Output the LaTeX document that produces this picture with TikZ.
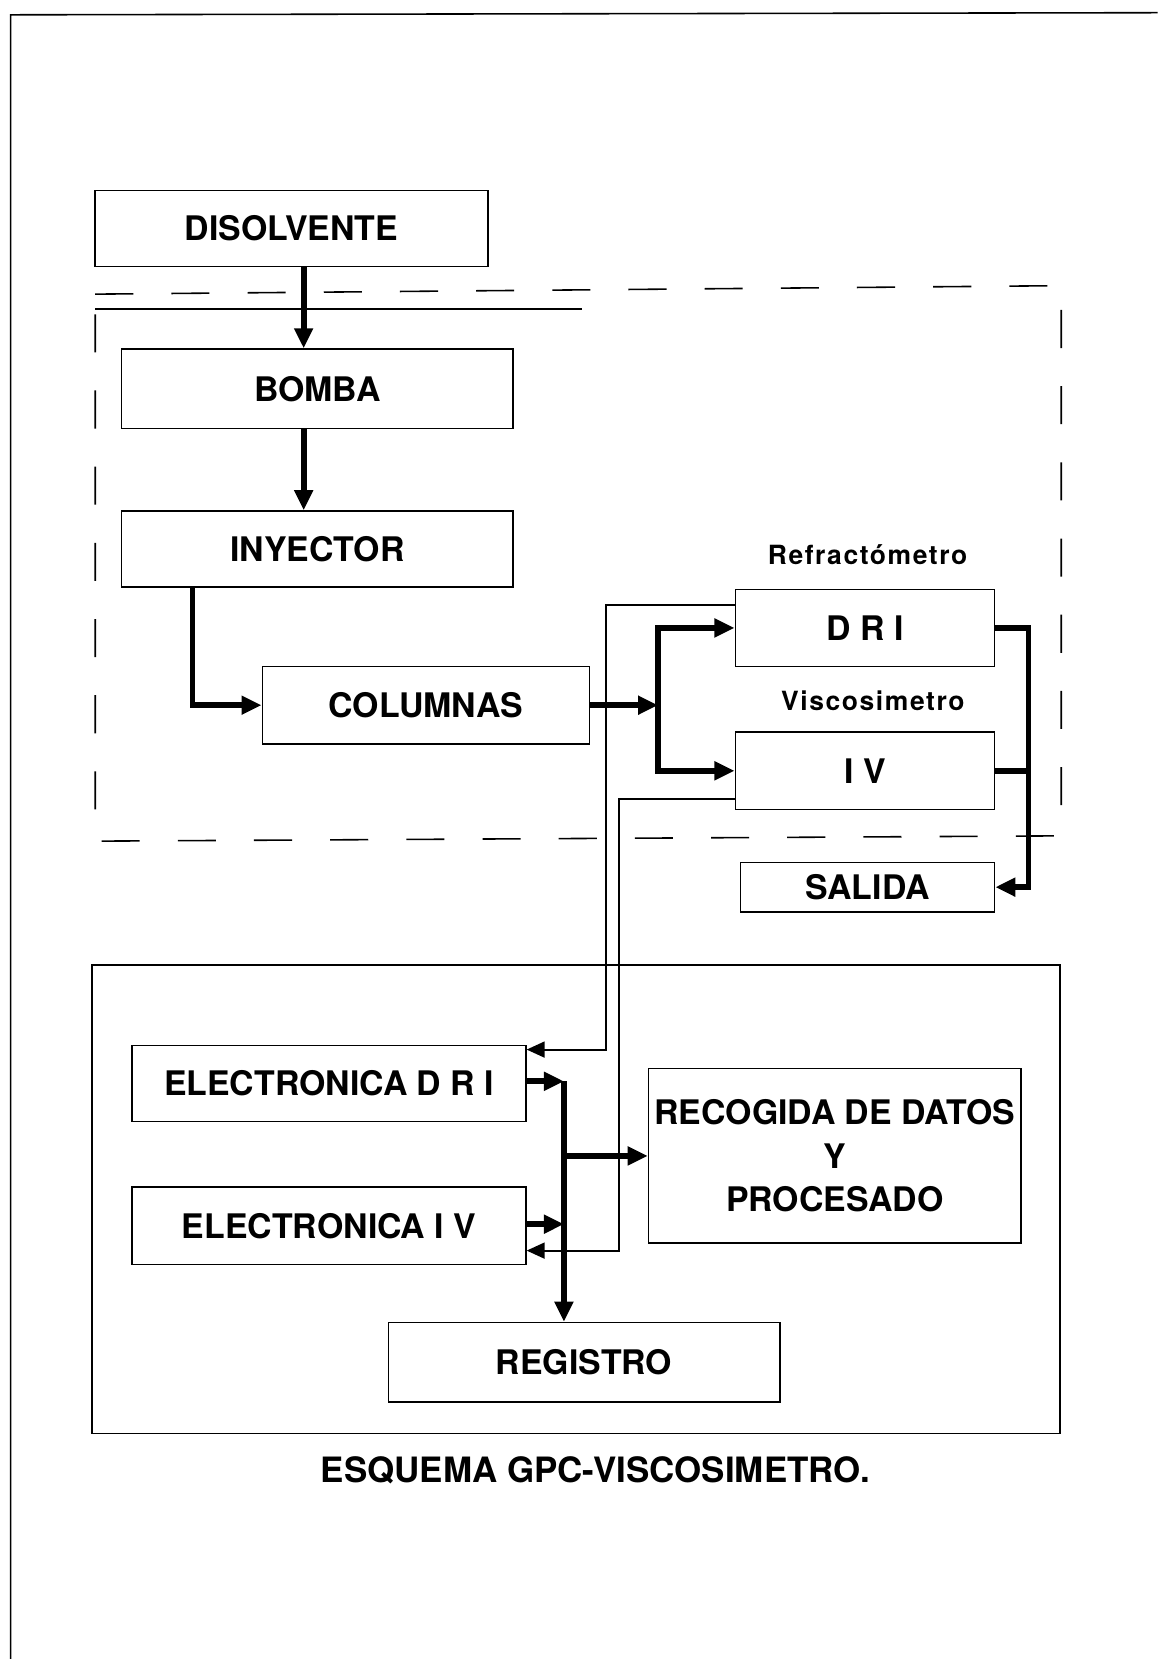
\documentclass[tikz,border=0pt]{standalone}
\usepackage{fontspec}
\setmainfont{TeX Gyre Heros}
\newfontfamily\spacedfont{TeX Gyre Heros}[LetterSpace=6]
\usetikzlibrary{arrows.meta}
\begin{document}
\begin{tikzpicture}[x=1pt,y=-1pt,
  box/.style={draw, line width=1.5pt, rectangle, inner sep=0pt,
    font=\fontsize{32}{41}\selectfont\bfseries, align=center},
  lbl/.style={font=\spacedfont\bfseries\fontsize{25}{28}\selectfont},
  captext/.style={font=\fontsize{33}{38}\selectfont\bfseries},
  thkline/.style={line width=5.5pt, line join=miter},
  thk/.style={thkline, -{Triangle[length=19pt,width=17pt]}},
  thn/.style={line width=2pt, -{Triangle[length=17pt,width=15pt]}},
  frameline/.style={line width=1.5pt},
  dashline/.style={line width=1.5pt, dash pattern=on 36pt off 36pt}
]
\useasboundingbox (0,0) rectangle (1094,1568);

% page frame (top and left edges)
\draw[frameline] (1094,12) -- (10,14) -- (10,1568);

% upper dashed enclosure and solid line
\draw[dashline] (90,278) -- (1003,270) -- (1003,790) -- (90,795) -- cycle;
\draw[line width=2pt] (90,292) -- (550,292);

% lower enclosure
\draw[frameline] (87,912) rectangle (1002,1355);

% boxes
\node[box, minimum width=371pt, minimum height=72pt] (dis) at (275.5,216) {DISOLVENTE};
\node[box, minimum width=370pt, minimum height=75pt] (bomba) at (300,367.5) {BOMBA};
\node[box, minimum width=370pt, minimum height=72pt] (iny) at (300,519) {INYECTOR};
\node[box, minimum width=309pt, minimum height=73pt] (col) at (402.5,666.5) {COLUMNAS};
\node[box, minimum width=245pt, minimum height=73pt] (dri) at (817.5,593.5) {D R I};
\node[box, minimum width=245pt, minimum height=73pt] (iv) at (817.5,728.5) {I V};
\node[box, minimum width=240pt, minimum height=47pt] (sal) at (820,838.5) {SALIDA};
\node[lbl] (refr) at (820,524) {Refractómetro};
\node[lbl] (visc) at (825,662) {Viscosimetro};

\node[box, minimum width=372pt, minimum height=72pt] (edri) at (311,1024) {ELECTRONICA D R I};
\node[box, minimum width=372pt, minimum height=73pt] (eiv) at (311,1158.5) {ELECTRONICA I V};
\node[box, minimum width=352pt, minimum height=165pt] (rec) at (789,1092.5) {RECOGIDA DE DATOS\\Y\\PROCESADO};
\node[box, minimum width=370pt, minimum height=75pt] (reg) at (552,1287.5) {REGISTRO};

\node[captext] (caption) at (563,1390) {ESQUEMA GPC-VISCOSIMETRO.};

% helper coordinates
\coordinate (a1) at (287,0);
\coordinate (c2) at (182,0);
\coordinate (jx) at (622,0);
\coordinate (kx) at (972,0);
\coordinate (t1) at (573,572);
\coordinate (t1b) at (573,992);
\coordinate (t2) at (585,755);
\coordinate (t2b) at (585,1182);
\coordinate (b1) at (533,1022);
\coordinate (b2) at (533,1157);

% upper flow
\draw[thk] (dis.south -| a1) -- (bomba.north -| a1);
\draw[thk] (bomba.south -| a1) -- (iny.north -| a1);
\draw[thk] (iny.south -| c2) |- (col.west);
\draw[thk] (col.east) -- (col.east -| jx);
\draw[thk] (col.east -| jx) |- (dri.west);
\draw[thk] (col.east -| jx) |- (iv.west);
\draw[thk] (dri.east) -- (dri.east -| kx) |- (sal.east);
\draw[thkline] (iv.east) -- (iv.east -| kx);

% signal lines
\draw[thn] (dri.west |- t1) -- (t1) -- (t1b) -- (edri.east |- t1b);
\draw[thn] (iv.west |- t2) -- (t2) -- (t2b) -- (eiv.east |- t2b);

% lower bus
\draw[thk] (edri.east |- b1) -- (b1);
\draw[thk] (b1) -- (reg.north -| b1);
\draw[thk] (b1 |- rec.west) -- (rec.west);
\draw[thk] (eiv.east |- b2) -- (b2);
\end{tikzpicture}
\end{document}
